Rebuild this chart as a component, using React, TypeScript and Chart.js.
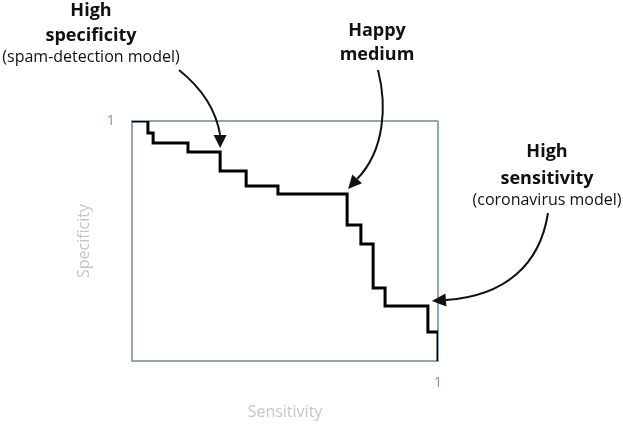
import React, { useEffect, useRef } from "react";
import { Chart, registerables } from "chart.js";

Chart.register(...registerables);

// ROC-style staircase: sensitivity (x) vs specificity (y)
const sensitivity = [0, 0.052, 0.069, 0.183, 0.288, 0.373, 0.477, 0.703, 0.748, 0.788, 0.827, 0.967, 1];
const specificity = [1, 0.95, 0.908, 0.871, 0.792, 0.729, 0.696, 0.567, 0.488, 0.304, 0.229, 0.121, 0];

const axisTicks = [1];
const xTitle = "Sensitivity";
const yTitle = "Specificity";

// annotation texts: [bold lines], [regular lines]; target = step corner index
const noteSpam = { bold: ["High", "specificity"], regular: ["(spam-detection model)"], target: 4 };
const noteMedium = { bold: ["Happy", "medium"], regular: [] as string[], target: 7 };
const noteCorona = { bold: ["High", "sensitivity"], regular: ["(coronavirus model)"], target: 11 };

const BORDER = "#8ea5bd";
const TICK = "#7f9bba";
const TITLE = "#c6c6c6";
const FONT = "'Open Sans', sans-serif";

function arrowHead(ctx: CanvasRenderingContext2D, bx: number, by: number, tx: number, ty: number) {
  const dx = tx - bx, dy = ty - by;
  const len = Math.hypot(dx, dy) || 1;
  const ux = dx / len, uy = dy / len;
  const px = -uy, py = ux;
  const hw = 6.5;
  ctx.beginPath();
  ctx.moveTo(tx, ty);
  ctx.lineTo(bx + px * hw, by + py * hw);
  ctx.lineTo(bx - px * hw, by - py * hw);
  ctx.closePath();
  ctx.fill();
}

const annotationPlugin = {
  id: "annotations",
  afterDraw(chart: any) {
    const ctx = chart.ctx as CanvasRenderingContext2D;
    const xs = chart.scales.x, ys = chart.scales.y;
    // corner where horizontal run at specificity[i-1] meets x = sensitivity[i]
    const corner = (i: number) => ({ x: xs.getPixelForValue(sensitivity[i]), y: ys.getPixelForValue(specificity[i - 1]) });
    ctx.save();
    ctx.fillStyle = "#111";
    ctx.strokeStyle = "#111";
    ctx.textAlign = "center";
    ctx.textBaseline = "alphabetic";

    const drawNote = (n: any, cx: number, baselines: number[]) => {
      let k = 0;
      ctx.font = `bold 18px ${FONT}`;
      for (const t of n.bold) ctx.fillText(t, cx, baselines[k++]);
      ctx.font = `16px ${FONT}`;
      for (const t of n.regular) ctx.fillText(t, cx, baselines[k++]);
    };
    drawNote(noteSpam, 91, [16, 41, 62]);
    drawNote(noteMedium, 377, [36, 60]);
    drawNote(noteCorona, 547, [157, 184, 205]);

    ctx.lineWidth = 2;
    // arrow 1
    const p1 = corner(noteSpam.target);
    const t1 = { x: p1.x, y: p1.y - 4 };
    ctx.beginPath();
    ctx.moveTo(179, 70);
    ctx.quadraticCurveTo(214, 98, t1.x, t1.y - 13);
    ctx.stroke();
    arrowHead(ctx, t1.x, t1.y - 13, t1.x, t1.y);
    // arrow 2
    const p2 = corner(noteMedium.target);
    const t2 = { x: p2.x + 1, y: p2.y - 5 };
    ctx.beginPath();
    ctx.moveTo(378, 70);
    ctx.bezierCurveTo(387, 105, 385, 150, t2.x + 9, t2.y - 10);
    ctx.stroke();
    arrowHead(ctx, t2.x + 9, t2.y - 10, t2.x, t2.y);
    // arrow 3
    const p3 = corner(noteCorona.target);
    const t3 = { x: p3.x + 4, y: p3.y - 5 };
    ctx.beginPath();
    ctx.moveTo(548, 213);
    ctx.bezierCurveTo(540, 265, 505, 296, t3.x + 14, t3.y - 1);
    ctx.stroke();
    arrowHead(ctx, t3.x + 14, t3.y - 1, t3.x, t3.y);
    ctx.restore();
  },
};

export default function App() {
  const ref = useRef<HTMLCanvasElement>(null);
  useEffect(() => {
    if (!ref.current) return;
    Chart.defaults.font.family = FONT;
    const gridColor = (c: any) => (c.tick && c.tick.value === 1 ? BORDER : "transparent");
    const chart = new Chart(ref.current, {
      type: "line",
      data: {
        datasets: [
          {
            data: sensitivity.map((x, i) => ({ x, y: specificity[i] })),
            stepped: "before",
            borderColor: "#000",
            borderWidth: 3,
            pointRadius: 0,
            fill: false,
            borderJoinStyle: "miter",
          } as any,
        ],
      },
      options: {
        animation: false,
        responsive: false,
        events: [],
        layout: { padding: { left: 60, top: 121, right: 185, bottom: 0 } },
        plugins: { legend: { display: false }, tooltip: { enabled: false } },
        scales: {
          x: {
            type: "linear",
            min: 0,
            max: 1,
            afterBuildTicks: (s: any) => {
              s.ticks = axisTicks.map((v) => ({ value: v }));
            },
            afterFit: (s: any) => {
              s.height = 68;
            },
            ticks: { color: TICK, font: { size: 15 }, padding: 13, maxRotation: 0, callback: (v: any) => String(v) },
            grid: { display: true, drawTicks: false, color: gridColor, lineWidth: 2 },
            border: { display: true, color: BORDER, width: 2 },
            title: { display: true, text: xTitle, color: TITLE, font: { size: 16 }, padding: { top: 0, bottom: 7 } },
          },
          y: {
            type: "linear",
            min: 0,
            max: 1,
            afterBuildTicks: (s: any) => {
              s.ticks = axisTicks.map((v) => ({ value: v }));
            },
            afterFit: (s: any) => {
              s.width = 72;
            },
            ticks: { color: TICK, font: { size: 15 }, padding: 17, callback: (v: any) => String(v) },
            grid: { display: true, drawTicks: false, color: gridColor, lineWidth: 2 },
            border: { display: true, color: BORDER, width: 2 },
            title: { display: true, text: yTitle, color: TITLE, font: { size: 16 }, padding: { top: 15, bottom: 0 } },
          },
        },
      },
      plugins: [annotationPlugin],
    });
    return () => chart.destroy();
  }, []);
  return (
    <div style={{ position: "absolute", left: 0, top: 0, width: 623, height: 429, background: "#fff" }}>
      <canvas ref={ref} width={623} height={429} />
    </div>
  );
}
